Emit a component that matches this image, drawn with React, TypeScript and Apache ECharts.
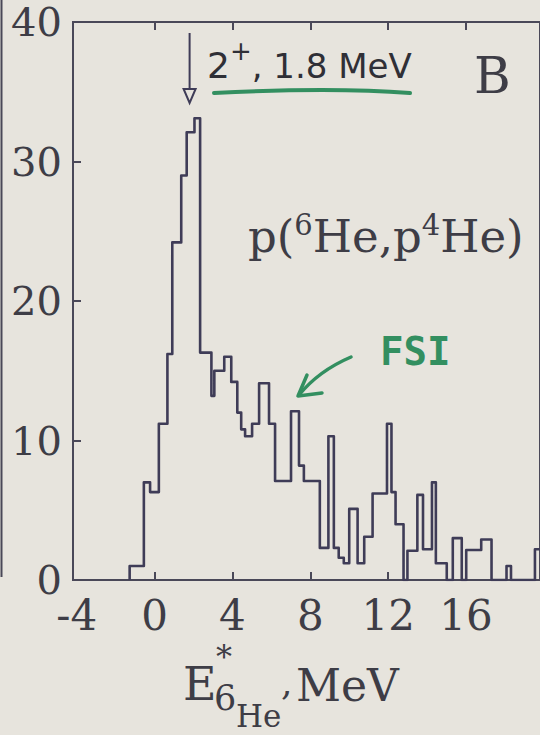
import React, { useEffect, useRef } from "react";
import * as echarts from "echarts";

// Histogram of the 6He excitation energy: bin edges (MeV) and counts per bin
const binEdges = [
  -1.28, -0.55, -0.23, 0.22, 0.66, 0.91, 1.37, 1.65, 2.05, 2.34,
  2.92, 3.07, 3.58, 3.94, 4.25, 4.45, 4.65, 5.01, 5.37, 5.88,
  6.19, 7.01, 7.42, 7.67, 8.49, 8.93, 9.21, 9.46, 9.72, 10.0,
  10.43, 10.77, 11.2, 11.94, 12.17, 12.38, 12.79, 12.99, 13.5, 13.79,
  14.25, 14.45, 15.01, 15.32, 15.78, 16.01, 16.78, 17.31, 18.08, 18.31,
  19.54, 20.0,
];
const binCounts = [
  1.0, 7.0, 6.3, 11.2, 16.2, 24.2, 29.0, 32.1, 33.1, 16.3,
  13.2, 15.0, 16.0, 14.2, 12.0, 10.8, 10.3, 11.2, 14.1, 11.2,
  7.1, 12.1, 8.2, 7.1, 2.3, 10.3, 2.3, 1.6, 1.2, 5.1,
  1.2, 3.1, 6.2, 11.2, 6.3, 4.0, 0, 2.1, 6.1, 2.2,
  7.0, 1.2, 0, 3.0, 0, 2.15, 2.9, 0, 1.0, 0,
  2.2,
];

const xTickValues = [0, 4, 8, 12, 16];
const xLabelValues = [-4, 0, 4, 8, 12, 16];
const yTickValues = [10, 20, 30];
const stateEnergy = 1.8; // 2+ state, MeV

const X_MIN = -4.19;
const X_MAX = 19.8;
const Y_MIN = 0;
const Y_MAX = 40;

const PAPER = "#e7e4dd";
const INK = "#3f3c57";
const FRAME = "#4a4858";
const TEXT = "#3e3d46";
const GREEN = "#338f60";
const SERIF = '"DejaVu Serif"';
const SANS = '"DejaVu Sans"';
const MONO = '"DejaVu Sans Mono"';

function stepPoints(): number[][] {
  const pts: number[][] = [[binEdges[0], 0]];
  for (let i = 0; i < binCounts.length; i++) {
    pts.push([binEdges[i], binCounts[i]]);
    pts.push([binEdges[i + 1], binCounts[i]]);
  }
  return pts;
}

const measureCtx =
  typeof document !== "undefined"
    ? document.createElement("canvas").getContext("2d")
    : null;

function textWidth(t: string, fs: number, family: string, weight = "normal") {
  if (!measureCtx) return t.length * fs * 0.6;
  measureCtx.font = `${weight} ${fs}px ${family}`;
  return measureCtx.measureText(t).width;
}

type Piece = { t: string; fs: number; rise?: number; dx?: number };

// Lays text fragments left to right on a common baseline
function runText(
  pieces: Piece[],
  x0: number,
  baseline: number,
  family: string,
  fill: string,
  weight = "normal"
) {
  let x = x0;
  const out: any[] = [];
  for (const p of pieces) {
    x += p.dx || 0;
    out.push({
      type: "text",
      x,
      y: baseline - (p.rise || 0) - 0.34 * p.fs,
      silent: true,
      style: {
        text: p.t,
        fontSize: p.fs,
        fontFamily: family,
        fontWeight: weight,
        fill,
        align: "left",
        verticalAlign: "middle",
      },
    });
    x += textWidth(p.t, p.fs, family, weight);
  }
  return out;
}

function buildOption() {
  const tick = {
    show: true,
    inside: true,
    length: 8,
    lineStyle: { color: FRAME, width: 2 },
  };
  return {
    animation: false,
    backgroundColor: "transparent",
    // the grid border draws the frame; its right side lies just past the page edge
    grid: {
      left: 73,
      top: 22,
      right: -2,
      bottom: 155,
      show: true,
      borderColor: FRAME,
      borderWidth: 2,
      backgroundColor: "transparent",
    },
    xAxis: [
      {
        type: "value",
        min: X_MIN,
        max: X_MAX,
        position: "bottom",
        axisLine: { show: false, onZero: false },
        axisTick: { ...tick, customValues: xTickValues },
        axisLabel: {
          customValues: xLabelValues,
          fontFamily: SERIF,
          fontSize: 42,
          color: TEXT,
          margin: 14,
        },
        splitLine: { show: false },
      },
      {
        type: "value",
        min: X_MIN,
        max: X_MAX,
        position: "top",
        axisLine: { show: false, onZero: false },
        axisTick: { ...tick, customValues: xTickValues },
        axisLabel: { show: false },
        splitLine: { show: false },
      },
    ],
    yAxis: {
      type: "value",
      min: Y_MIN,
      max: Y_MAX,
      interval: 10,
      position: "left",
      axisLine: { show: false, onZero: false },
      axisTick: { ...tick, customValues: yTickValues },
      axisLabel: {
        fontFamily: SERIF,
        fontSize: 40,
        color: TEXT,
        margin: 11,
      },
      splitLine: { show: false },
    },
    series: [
      {
        type: "line",
        data: stepPoints(),
        showSymbol: false,
        symbol: "none",
        clip: true,
        lineStyle: { color: INK, width: 2.6, join: "round" },
      },
    ],
  };
}

function buildGraphics(ax: number, left: number, top: number, bottom: number) {
  const g: any[] = [];
  // edge of the neighbouring panel
  g.push({
    type: "line",
    shape: { x1: 1.5, y1: 0, x2: 1.5, y2: 577 },
    style: { stroke: FRAME, lineWidth: 2 },
  });
  // left side of the frame
  g.push({
    type: "line",
    shape: { x1: left, y1: top, x2: left, y2: bottom },
    style: { stroke: FRAME, lineWidth: 2 },
  });
  // downward arrow at the 2+ state
  g.push({
    type: "line",
    shape: { x1: ax, y1: 33, x2: ax, y2: 89 },
    style: { stroke: INK, lineWidth: 2 },
  });
  g.push({
    type: "polygon",
    shape: { points: [[ax - 6, 89], [ax + 6, 89], [ax, 103]] },
    style: { fill: "none", stroke: INK, lineWidth: 2 },
  });
  // handwritten state label
  g.push(
    ...runText(
      [
        { t: "2", fs: 36 },
        { t: "+", fs: 26, rise: 18 },
        { t: ", 1.8 MeV", fs: 34 },
      ],
      207,
      78,
      SANS,
      "#2f2f36"
    )
  );
  g.push({
    type: "bezierCurve",
    shape: { x1: 214, y1: 93, cpx1: 290, cpy1: 89, cpx2: 360, cpy2: 89, x2: 410, y2: 93 },
    style: { stroke: GREEN, lineWidth: 4, lineCap: "round" },
  });
  // panel letter
  g.push(...runText([{ t: "B", fs: 50 }], 474, 93, SERIF, TEXT));
  // reaction
  g.push(
    ...runText(
      [
        { t: "p(", fs: 45 },
        { t: "6", fs: 29, rise: 17 },
        { t: "He,p", fs: 45 },
        { t: "4", fs: 29, rise: 17 },
        { t: "He)", fs: 45 },
      ],
      248,
      252,
      SERIF,
      TEXT
    )
  );
  // FSI note with arrow
  g.push(...runText([{ t: "FSI", fs: 39 }], 380, 365, MONO, GREEN, "bold"));
  g.push({
    type: "bezierCurve",
    shape: { x1: 351, y1: 357, cpx1: 330, cpy1: 366, cpx2: 312, cpy2: 379, x2: 299, y2: 395 },
    style: { stroke: GREEN, lineWidth: 3.5, lineCap: "round" },
  });
  g.push({
    type: "polyline",
    shape: { points: [[307, 375], [298, 396], [322, 393]] },
    style: { stroke: GREEN, lineWidth: 3.5, lineCap: "round", lineJoin: "round", fill: "none" },
  });
  // axis title: E*_{6He}, MeV
  g.push(...runText([{ t: "E", fs: 46 }], 183, 700, SERIF, TEXT));
  g.push(...runText([{ t: "*", fs: 32 }], 216, 668, SERIF, TEXT));
  g.push(...runText([{ t: "6", fs: 35 }], 214, 710, SERIF, TEXT));
  g.push(...runText([{ t: "He", fs: 31 }], 236, 727, SERIF, TEXT));
  g.push(...runText([{ t: ",", fs: 36 }], 281, 695, SERIF, TEXT));
  g.push(...runText([{ t: "MeV", fs: 44 }], 296, 700, SERIF, TEXT));
  return g;
}

export default function App() {
  const ref = useRef<HTMLDivElement>(null);
  useEffect(() => {
    const el = ref.current;
    if (!el) return;
    const chart = echarts.init(el, null, { renderer: "svg" });
    chart.setOption(buildOption() as any);
    const ax = chart.convertToPixel({ xAxisIndex: 0 }, stateEnergy) as number;
    const left = chart.convertToPixel({ xAxisIndex: 0 }, X_MIN) as number;
    const top = chart.convertToPixel({ yAxisIndex: 0 }, Y_MAX) as number;
    const bottom = chart.convertToPixel({ yAxisIndex: 0 }, Y_MIN) as number;
    chart.setOption({ graphic: buildGraphics(ax, left, top, bottom) } as any);
    return () => chart.dispose();
  }, []);
  return (
    <div
      ref={ref}
      style={{
        position: "fixed",
        left: 0,
        top: 0,
        width: 540,
        height: 735,
        background: PAPER,
      }}
    />
  );
}
